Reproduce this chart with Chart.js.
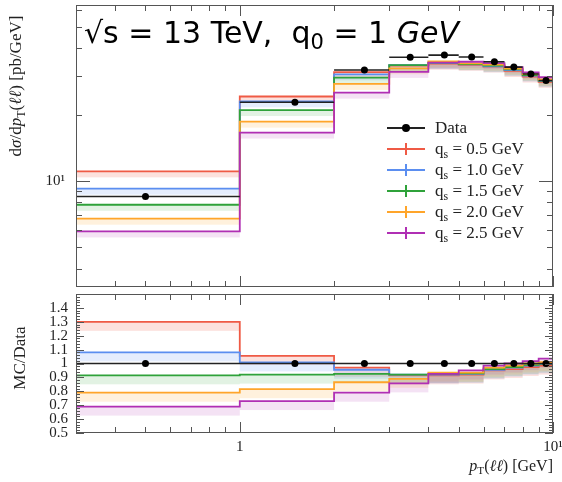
<!DOCTYPE html>
<html>
<head>
<meta charset="utf-8">
<script src="https://cdn.jsdelivr.net/npm/chart.js@4.4.1/dist/chart.umd.min.js"></script>
<style>
  body { margin: 0; width: 562px; height: 482px; overflow: hidden; position: relative; background: #fff; font-family: "Liberation Serif", serif; color: #222; }
  canvas { position: absolute; left: 0; }
  #top { top: 0; }
  #bot { top: 290px; }
  .lbl { position: absolute; white-space: nowrap; }
  .rot { transform: rotate(-90deg); text-align: center; }
  sub { font-size: 70%; vertical-align: -0.3em; line-height: 0; }
  #title { left: 84px; top: 15px; font-family: "DejaVu Sans", sans-serif; font-size: 30px; color: #000; }
  #legend { position: absolute; left: 387px; top: 117px; }
  .row { height: 21px; width: 175px; position: relative; font-size: 17px; white-space: nowrap; }
  .row .mk { position: absolute; left: 0; top: 10px; width: 38px; height: 2px; }
  .row .tk { position: absolute; left: 18px; top: -5px; width: 2px; height: 12px; }
  .row .dot { position: absolute; left: 15px; top: -3px; width: 8px; height: 8px; border-radius: 50%; background: #000; }
  .row .tx { position: absolute; left: 48px; top: 0; line-height: 21px; }
</style>
</head>
<body>
<canvas id="top" width="562" height="291"></canvas>
<canvas id="bot" width="562" height="192"></canvas>

<div class="lbl" id="title">√s = 13 TeV,&nbsp; q<sub>0</sub> = 1 <i>GeV</i></div>
<div class="lbl rot" style="left:-84px; top:76px; width:200px; font-size:17px; line-height:20px;">d<i>σ</i>/d<i>p</i><sub>T</sub>(<i>ℓℓ</i>) [pb/GeV]</div>
<div class="lbl rot" style="left:-30px; top:348px; width:100px; font-size:17px; line-height:20px;">MC/Data</div>
<div class="lbl" style="right:9px; top:457px; font-size:16px;"><i>p</i><sub>T</sub>(<i>ℓℓ</i>) [GeV]</div>
<div id="legend"></div>

<script>
// bins in pT(ll) [GeV]
var binEdges = [0.3, 1, 2, 3, 4, 5, 6, 7, 8, 9, 10];
var binCentres = [0.5, 1.5, 2.5, 3.5, 4.5, 5.5, 6.5, 7.5, 8.5, 9.5];

// dsigma/dpT [pb/GeV]
var dataVals = [8.5, 22.8, 31.9, 36.5, 37.3, 36.6, 34.8, 32.9, 30.6, 28.6];
var qs05 = [11.06, 24.2, 31.2, 33.4, 34.1, 33.7, 33.1, 31.6, 29.8, 28.2];
var qs10 = [9.23, 23.0, 30.5, 33.6, 34.3, 33.9, 33.2, 31.9, 30.1, 28.5];
var qs15 = [7.8, 21.0, 29.5, 33.6, 34.5, 34.0, 33.4, 32.1, 30.3, 28.6];
var qs20 = [6.74, 18.6, 27.6, 32.5, 34.9, 34.2, 33.8, 32.4, 30.6, 28.9];
var qs25 = [5.9, 16.6, 25.2, 31.3, 34.5, 34.8, 34.3, 32.9, 31.1, 29.6];

// MC/Data
var dataRatio = [1, 1, 1, 1, 1, 1, 1, 1, 1, 1];
var ratio05 = [1.30, 1.055, 0.97, 0.915, 0.915, 0.92, 0.95, 0.96, 0.975, 0.985];
var ratio10 = [1.08, 1.008, 0.955, 0.92, 0.92, 0.925, 0.955, 0.97, 0.985, 0.995];
var ratio15 = [0.915, 0.92, 0.925, 0.92, 0.925, 0.93, 0.96, 0.975, 0.99, 1.0];
var ratio20 = [0.79, 0.815, 0.865, 0.89, 0.935, 0.935, 0.97, 0.985, 1.0, 1.01];
var ratio25 = [0.69, 0.73, 0.79, 0.857, 0.925, 0.95, 0.985, 1.0, 1.017, 1.035];

var seriesNames = ['0.5', '1.0', '1.5', '2.0', '2.5'];
var seriesColors = ['#ef5a45', '#5b8ef0', '#2fa23a', '#ffa52a', '#b02fb4'];
var bandColors = ['rgba(239,90,69,0.18)', 'rgba(91,142,240,0.16)', 'rgba(47,162,58,0.14)', 'rgba(255,165,42,0.16)', 'rgba(176,47,180,0.14)'];

// ticks
var xMinorTicks = [0.4, 0.5, 0.6, 0.7, 0.8, 0.9, 2, 3, 4, 5, 6, 7, 8, 9];
var xMajorTicks = [1, 10];
var xTickLabels = { 1: '1', 10: '10¹' };
var yTopMinorTicks = [4, 5, 6, 7, 8, 9, 20, 30, 40, 50, 60];
var yTopMajorTicks = [10];
var yTopLabels = { 10: '10¹' };
var ratioMajorTicks = [0.5, 0.6, 0.7, 0.8, 0.9, 1.0, 1.1, 1.2, 1.3, 1.4];
var ratioLabels = ['0.5', '0.6', '0.7', '0.8', '0.9', '1', '1.1', '1.2', '1.3', '1.4'];
var ratioMinorTicks = [0.52, 0.54, 0.56, 0.58, 0.62, 0.64, 0.66, 0.68, 0.72, 0.74, 0.76, 0.78, 0.82, 0.84, 0.86, 0.88,
  0.92, 0.94, 0.96, 0.98, 1.02, 1.04, 1.06, 1.08, 1.12, 1.14, 1.16, 1.18, 1.22, 1.24, 1.26, 1.28, 1.32, 1.34, 1.36, 1.38,
  1.42, 1.44, 1.46, 1.48];

function steps(vals) {
  var pts = vals.map(function (v, i) { return { x: binEdges[i], y: v }; });
  pts.push({ x: binEdges[binEdges.length - 1], y: vals[vals.length - 1] });
  return pts;
}
function bars(vals) {
  var pts = [];
  vals.forEach(function (v, i) {
    pts.push({ x: binEdges[i], y: v }, { x: binEdges[i + 1], y: v }, { x: binEdges[i + 1], y: null });
  });
  return pts;
}
function dots(vals) {
  return vals.map(function (v, i) { return { x: binCentres[i], y: v }; });
}
function mcSet(vals, k) {
  return { data: steps(vals), borderColor: seriesColors[k], borderWidth: 1.8, stepped: 'before', pointRadius: 0, fill: false };
}
// keep plot area fixed regardless of label sizes
function fitY(s) { s.width = 76; s.paddingTop = 0; s.paddingBottom = 0; }
function fitX(s) { s.height = 49; s.paddingLeft = 0; s.paddingRight = 0; }

// light bands under each MC line
var bandPlugin = {
  id: 'bands',
  beforeDatasetsDraw: function (chart) {
    var o = chart.options.plugins.bands, ctx = chart.ctx, a = chart.chartArea;
    var xs = chart.scales.x, ys = chart.scales.y;
    ctx.save();
    ctx.beginPath(); ctx.rect(a.left, a.top, a.right - a.left, a.bottom - a.top); ctx.clip();
    o.series.forEach(function (vals, k) {
      ctx.fillStyle = bandColors[k];
      vals.forEach(function (v, i) {
        var x1 = xs.getPixelForValue(binEdges[i]), x2 = xs.getPixelForValue(binEdges[i + 1]);
        var y = ys.getPixelForValue(v);
        ctx.fillRect(x1, y, x2 - x1, o.px);
      });
    });
    ctx.restore();
  }
};

// frame and inward ticks
var framePlugin = {
  id: 'frame',
  afterDraw: function (chart) {
    var o = chart.options.plugins.frame, ctx = chart.ctx, a = chart.chartArea;
    var xs = chart.scales.x, ys = chart.scales.y;
    ctx.save();
    ctx.strokeStyle = '#555'; ctx.lineWidth = 1;
    ctx.strokeRect(a.left + 0.5, a.top + 0.5, a.right - a.left - 1, a.bottom - a.top - 1);
    ctx.beginPath();
    function xt(list, len) {
      list.forEach(function (v) {
        var px = Math.round(xs.getPixelForValue(v)) + 0.5;
        ctx.moveTo(px, a.top); ctx.lineTo(px, a.top + len);
        ctx.moveTo(px, a.bottom); ctx.lineTo(px, a.bottom - len);
      });
    }
    function yt(list, len) {
      list.forEach(function (v) {
        var py = Math.round(ys.getPixelForValue(v)) + 0.5;
        ctx.moveTo(a.left, py); ctx.lineTo(a.left + len, py);
        ctx.moveTo(a.right, py); ctx.lineTo(a.right - len, py);
      });
    }
    xt(xMinorTicks, 6); xt(xMajorTicks, 11);
    yt(o.yMinor, o.yMinorLen); yt(o.yMajor, o.yMajorLen);
    ctx.stroke();
    ctx.restore();
  }
};

var tickFont = { family: 'Liberation Serif', size: 15 };

new Chart(document.getElementById('top'), {
  type: 'line',
  data: {
    datasets: [
      { data: dots(dataVals), showLine: false, pointRadius: 3.5, pointBackgroundColor: '#000', pointBorderWidth: 0 },
      { data: bars(dataVals), borderColor: '#222', borderWidth: 1.6, pointRadius: 0, spanGaps: false },
      mcSet(qs25, 4), mcSet(qs20, 3), mcSet(qs15, 2), mcSet(qs10, 1), mcSet(qs05, 0)
    ]
  },
  options: {
    responsive: false, animation: false,
    layout: { padding: { left: 0, right: 9, top: 5, bottom: 1 } },
    plugins: {
      legend: { display: false }, tooltip: { enabled: false },
      bands: { series: [qs05, qs10, qs15, qs20, qs25], px: 6 },
      frame: { yMinor: yTopMinorTicks, yMajor: yTopMajorTicks, yMinorLen: 6, yMajorLen: 14 }
    },
    scales: {
      x: { type: 'logarithmic', min: 0.3, max: 10, display: false },
      y: {
        type: 'logarithmic', min: 3.3, max: 63,
        afterFit: fitY,
        grid: { display: false, drawTicks: false }, border: { display: false },
        ticks: { autoSkip: false, padding: 11, font: tickFont, color: '#222',
          callback: function (v) { return yTopLabels[v] || ''; } }
      }
    }
  },
  plugins: [bandPlugin, framePlugin]
});

new Chart(document.getElementById('bot'), {
  type: 'line',
  data: {
    datasets: [
      { data: dots(dataRatio), showLine: false, pointRadius: 3.5, pointBackgroundColor: '#000', pointBorderWidth: 0 },
      { data: steps(dataRatio), borderColor: '#222', borderWidth: 1.6, stepped: 'before', pointRadius: 0 },
      mcSet(ratio25, 4), mcSet(ratio20, 3), mcSet(ratio15, 2), mcSet(ratio10, 1), mcSet(ratio05, 0)
    ]
  },
  options: {
    responsive: false, animation: false,
    layout: { padding: { left: 0, right: 9, top: 0, bottom: 0 } },
    plugins: {
      legend: { display: false }, tooltip: { enabled: false },
      bands: { series: [ratio05, ratio10, ratio15, ratio20, ratio25], px: 9 },
      frame: { yMinor: ratioMinorTicks, yMajor: ratioMajorTicks, yMinorLen: 4, yMajorLen: 8 }
    },
    scales: {
      x: {
        type: 'logarithmic', min: 0.3, max: 10,
        afterFit: fitX,
        grid: { display: false, drawTicks: false }, border: { display: false },
        ticks: { autoSkip: false, maxRotation: 0, padding: 5, font: tickFont, color: '#222',
          callback: function (v) { return xTickLabels[v] || ''; } }
      },
      y: {
        min: 0.5, max: 1.5,
        afterFit: fitY,
        grid: { display: false, drawTicks: false }, border: { display: false },
        ticks: { stepSize: 0.1, autoSkip: false, padding: 8, font: tickFont, color: '#222',
          callback: function (v) {
            var i = ratioMajorTicks.indexOf(Math.round(v * 10) / 10);
            return i < 0 ? '' : ratioLabels[i];
          } }
      }
    }
  },
  plugins: [bandPlugin, framePlugin]
});

// legend
var lg = document.getElementById('legend');
var html = '<div class="row"><div class="mk" style="background:#222"><div class="dot"></div></div><div class="tx">Data</div></div>';
seriesNames.forEach(function (n, k) {
  html += '<div class="row"><div class="mk" style="background:' + seriesColors[k] + '"><div class="tk" style="background:' + seriesColors[k] + '"></div></div>' +
    '<div class="tx">q<sub>s</sub> = ' + n + ' GeV</div></div>';
});
lg.innerHTML = html;
</script>
</body>
</html>
